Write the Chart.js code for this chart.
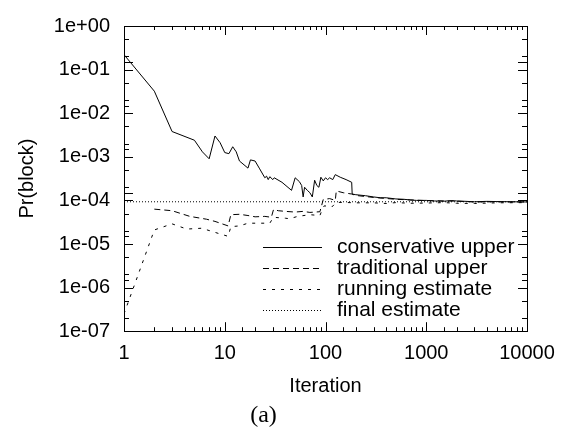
<!DOCTYPE html>
<html>
<head>
<meta charset="utf-8">
<script src="https://cdn.jsdelivr.net/npm/chart.js@4.4.1/dist/chart.umd.min.js"></script>
<style>
  body { margin: 0; background: #fff; }
</style>
</head>
<body>
<canvas id="grafica" width="571" height="430"></canvas>
<script>
// datos
const seriesLabels = ['conservative upper', 'traditional upper', 'running estimate', 'final estimate'];

const consX = [1, 2, 3, 5, 6, 7, 8, 9, 10, 11, 12, 13, 14, 17, 18, 20, 22, 25, 26, 27, 28, 30, 31, 37, 46, 50, 55, 58, 60, 62, 66, 70, 74, 78, 82, 86, 90, 95, 100, 105, 110, 118, 125, 140, 160, 182, 184, 200, 250, 300, 350, 400, 500, 600, 700, 800, 1000, 1200, 1500, 1800, 2000, 2500, 3000, 4000, 5000, 7000, 10000];
const consY = [0.22, 0.032, 0.0038, 0.0024, 0.0013, 0.0009, 0.003, 0.0021, 0.00125, 0.00118, 0.0017, 0.0013, 0.0008, 0.00055, 0.00085, 0.0008, 0.00055, 0.00033, 0.00036, 0.0003, 0.00035, 0.0003, 0.00033, 0.00026, 0.00017, 0.00033, 0.00027, 0.00022, 0.00012, 0.0002, 0.00017, 0.00015, 0.00012, 0.00029, 0.00022, 0.0002, 0.00034, 0.00028, 0.00033, 0.0003, 0.00033, 0.0003, 0.00039, 0.00034, 0.0003, 0.00026, 0.00014, 0.000135, 0.000128, 0.00012, 0.000115, 0.000115, 0.000108, 0.000106, 0.000102, 0.0001, 0.0001, 0.000097, 0.000096, 0.000099, 0.000097, 0.000095, 0.000093, 0.000095, 0.000094, 0.000093, 0.000092];

const tradX = [2, 3, 4.5, 6.6, 8, 10.8, 11.5, 14, 17, 20, 25, 29, 30.5, 34, 40, 50, 60, 70, 88, 95, 110, 125, 128, 150, 182, 200, 300, 500, 1000, 2000, 3000, 5000, 10000];
const tradY = [6.3e-5, 5.8e-5, 4.3e-5, 3.7e-5, 3.3e-5, 2.6e-5, 4.7e-5, 4.8e-5, 4.5e-5, 4.2e-5, 4.3e-5, 4.1e-5, 6.2e-5, 5.8e-5, 5.6e-5, 5.4e-5, 5.6e-5, 5.3e-5, 5.5e-5, 1.05e-4, 1.1e-4, 1.0e-4, 1.65e-4, 1.5e-4, 1.4e-4, 1.3e-4, 1.17e-4, 1.06e-4, 9.9e-5, 9.6e-5, 9.2e-5, 9.3e-5, 9.2e-5];

const runX = [1, 2, 3, 4.2, 5.9, 9, 10.8, 11.5, 14, 17, 20, 28, 30.4, 40, 44, 53, 70, 88, 91, 97, 110, 115, 128, 150, 200, 300, 400, 500, 700, 1000, 1500, 2000, 3000, 5000, 10000];
const runY = [2.5e-7, 2.1e-5, 2.9e-5, 2.2e-5, 2.3e-5, 1.7e-5, 1.5e-5, 2.5e-5, 2.6e-5, 3e-5, 3e-5, 3e-5, 4.1e-5, 3.9e-5, 3.8e-5, 4.3e-5, 4.7e-5, 4.5e-5, 5.5e-5, 7.5e-5, 7.3e-5, 7.0e-5, 9.0e-5, 9.0e-5, 8.8e-5, 8.8e-5, 8.5e-5, 8.9e-5, 8.6e-5, 8.7e-5, 8.9e-5, 8.6e-5, 8.5e-5, 8.8e-5, 8.9e-5];

const finalX = [1, 10000];
const finalY = [9.3e-5, 9.3e-5];

const guiones = [[], [6, 4], [3, 6], [1, 2]];

function puntos(xs, ys) {
    return xs.map((x, i) => ({ x: x, y: ys[i] }));
}

const esDecada = v => Math.abs(Math.log10(v) - Math.round(Math.log10(v))) < 1e-9;

// marcas hacia adentro en los 4 lados + marco
const marcoPlugin = {
    id: 'marco',
    afterDatasetsDraw(chart) {
        const { ctx, chartArea: a, scales: { x, y } } = chart;
        ctx.save();
        ctx.strokeStyle = '#000';
        ctx.lineWidth = 1;
        ctx.beginPath();
        x.ticks.forEach(t => {
            const px = Math.round(x.getPixelForValue(t.value)) + 0.5;
            const len = esDecada(t.value) ? 9 : 4;
            ctx.moveTo(px, a.bottom); ctx.lineTo(px, a.bottom - len);
            ctx.moveTo(px, a.top); ctx.lineTo(px, a.top + len);
        });
        y.ticks.forEach(t => {
            const m = Math.round(t.value / Math.pow(10, Math.floor(Math.log10(t.value) + 1e-9)));
            if (!(m === 1 || m === 2 || m === 5)) return;
            const py = Math.round(y.getPixelForValue(t.value)) + 0.5;
            const len = m === 1 ? 9 : 5;
            ctx.moveTo(a.left, py); ctx.lineTo(a.left + len, py);
            ctx.moveTo(a.right, py); ctx.lineTo(a.right - len, py);
        });
        ctx.stroke();
        ctx.strokeRect(Math.round(a.left) + 0.5, Math.round(a.top) + 0.5,
            Math.round(a.right - a.left), Math.round(a.bottom - a.top));
        ctx.restore();
    },
    afterDraw(chart) {
        // leyenda dentro del area, abajo a la derecha
        const { ctx, chartArea: a } = chart;
        ctx.save();
        ctx.font = '21px "Liberation Sans", Arial, sans-serif';
        ctx.fillStyle = '#000';
        ctx.strokeStyle = '#000';
        ctx.lineWidth = 1;
        ctx.textBaseline = 'middle';
        chart.data.datasets.forEach((ds, i) => {
            const yy = a.bottom - 84 + i * 21;
            ctx.setLineDash(ds.borderDash || []);
            ctx.beginPath();
            ctx.moveTo(a.right - 264, Math.round(yy) + 0.5);
            ctx.lineTo(a.right - 205, Math.round(yy) + 0.5);
            ctx.stroke();
            ctx.setLineDash([]);
            ctx.fillText(ds.label, a.right - 190, yy);
        });
        ctx.restore();
    }
};

const fuente = { family: '"Liberation Sans", Arial, sans-serif', size: 20 };

new Chart(document.getElementById('grafica'), {
    type: 'line',
    data: {
        datasets: [
            { label: seriesLabels[0], data: puntos(consX, consY), borderDash: guiones[0] },
            { label: seriesLabels[1], data: puntos(tradX, tradY), borderDash: guiones[1] },
            { label: seriesLabels[2], data: puntos(runX, runY), borderDash: guiones[2] },
            { label: seriesLabels[3], data: puntos(finalX, finalY), borderDash: guiones[3] }
        ].map(d => Object.assign(d, { borderColor: '#000', borderWidth: 1, pointRadius: 0, tension: 0, fill: false }))
    },
    options: {
        responsive: false,
        animation: false,
        layout: { padding: { top: 14, right: 44, left: 0, bottom: 0 } },
        scales: {
            x: {
                type: 'logarithmic',
                min: 1, max: 10000,
                grid: { display: false, drawTicks: false },
                border: { display: false },
                ticks: {
                    autoSkip: false, maxRotation: 0, padding: 10,
                    color: '#000', font: fuente,
                    callback: v => esDecada(v) ? String(Math.round(v)) : ''
                },
                title: { display: true, text: 'Iteration', color: '#000', font: fuente, padding: { top: 0, bottom: 3 } },
                afterFit: s => { s.height = 70; }
            },
            y: {
                type: 'logarithmic',
                min: 1e-7, max: 1,
                grid: { display: false, drawTicks: false },
                border: { display: false },
                ticks: {
                    autoSkip: false, padding: 14,
                    color: '#000', font: fuente,
                    callback: v => {
                        if (!esDecada(v)) return '';
                        const e = Math.round(Math.log10(v));
                        return '1e' + (e < 0 ? '-' : '+') + String(Math.abs(e)).padStart(2, '0');
                    }
                },
                title: { display: true, text: 'Pr(block)', color: '#000', font: fuente, padding: { top: 15, bottom: 0 } },
                afterFit: s => { s.width = 124; }
            }
        },
        plugins: {
            legend: { display: false },
            tooltip: { enabled: false },
            title: {
                display: true, position: 'bottom', text: '(a)', color: '#000',
                font: { family: '"Liberation Serif", "Times New Roman", serif', size: 24, weight: 'normal' },
                padding: { top: 0, bottom: 0 }
            }
        }
    },
    plugins: [marcoPlugin]
});
</script>
</body>
</html>
